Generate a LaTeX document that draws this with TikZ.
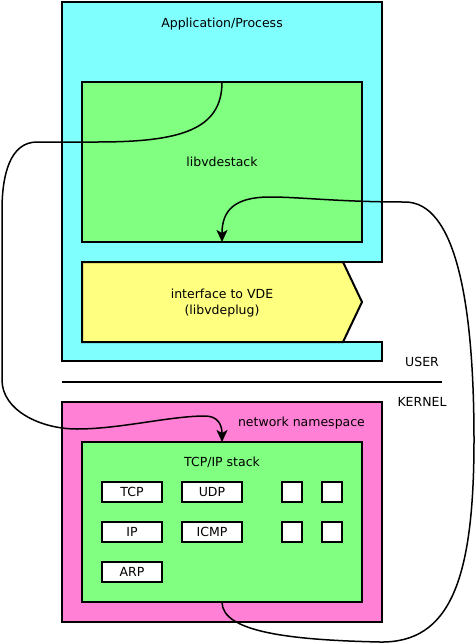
\documentclass[tikz,border=0pt]{standalone}
\usepackage{fontspec}
\setmainfont{DejaVu Sans}
\usetikzlibrary{arrows.meta}
\definecolor{cyanbox}{RGB}{128,255,255}
\definecolor{greenbox}{RGB}{128,255,128}
\definecolor{yellowbox}{RGB}{255,255,128}
\definecolor{pinkbox}{RGB}{255,128,212}
\begin{document}
\begin{tikzpicture}[x=1pt,y=-1pt,
  font=\fontsize{12.5}{15}\selectfont,
  box/.style={draw, line width=2pt, rectangle, inner sep=0pt, outer sep=0pt},
  smallbox/.style={box, fill=white, minimum width=60pt, minimum height=20pt, text height=9pt, text depth=0pt},
  sqbox/.style={box, fill=white, minimum width=20pt, minimum height=20pt},
  lbl/.style={anchor=base, inner sep=0pt},
  flow/.style={line width=1.5pt, -{Stealth[length=12pt,width=11pt,inset=3pt]}}]
\useasboundingbox (0,0) rectangle (476,643);

% Application / Process (cyan, with notch)
\draw[line width=2pt, fill=cyanbox] (62,2) -- (382,2) -- (382,262) -- (82,262) -- (82,342) -- (382,342) -- (382,361) -- (62,361) -- cycle;
\node[lbl] (app) at (222,27) {Application/Process};

% libvdestack
\node[box, fill=greenbox, minimum width=280pt, minimum height=160pt] (libvde) at (222,162) {};
\node[lbl] (libvdelbl) at (222,166) {libvdestack};

% interface to VDE
\draw[line width=2pt, fill=yellowbox] (82,262) -- (343,262) -- (362,302) -- (343,342) -- (82,342) -- cycle;
\node[lbl] (ifa) at (222,298) {interface to VDE};
\node[lbl] (ifb) at (222,314) {(libvdeplug)};

% user / kernel
\node[lbl] (user) at (422,366) {USER};
\coordinate (sepL) at (62,382);
\coordinate (sepR) at (442,382);
\draw[line width=2pt] (sepL) -- (sepR);
\node[lbl] (kernel) at (422,406) {KERNEL};

% network namespace
\node[box, fill=pinkbox, minimum width=320pt, minimum height=220pt] (ns) at (222,512) {};
\node[lbl] (nslbl) at (301.5,426) {network namespace};

% TCP/IP stack
\node[box, fill=greenbox, minimum width=280pt, minimum height=160pt] (tcpip) at (222,522) {};
\node[lbl] (tcpiplbl) at (222,466) {TCP/IP stack};

\node[smallbox] (tcp) at (132,492) {TCP};
\node[smallbox] (udp) at (212,492) {UDP};
\node[smallbox] (ip) at (132,532) {IP};
\node[smallbox] (icmp) at (212,532) {ICMP};
\node[smallbox] (arp) at (132,572) {ARP};
\node[sqbox] (s1) at (292,492) {};
\node[sqbox] (s2) at (332,492) {};
\node[sqbox] (s3) at (292,532) {};
\node[sqbox] (s4) at (332,532) {};

% connectors
\draw[flow] (libvde.north) .. controls (222,130) and (180,142) .. (97,142)
  .. controls (60,142) and (45,142) .. (37,142)
  .. controls (10,142) and (2,175) .. (2,210)
  -- (2,380)
  .. controls (2,410) and (40,429) .. (77,429)
  .. controls (120,429) and (170,416) .. (205,416)
  .. controls (218,416) and (222,425) .. (tcpip.north);

\draw[flow] (tcpip.south) .. controls (222,632) and (290,640) .. (380,642)
  .. controls (450,643) and (474,580) .. (474,440)
  .. controls (474,300) and (455,202) .. (405,202)
  .. controls (340,202) and (300,197) .. (270,197)
  .. controls (235,197) and (222,210) .. (libvde.south);
\end{tikzpicture}
\end{document}
